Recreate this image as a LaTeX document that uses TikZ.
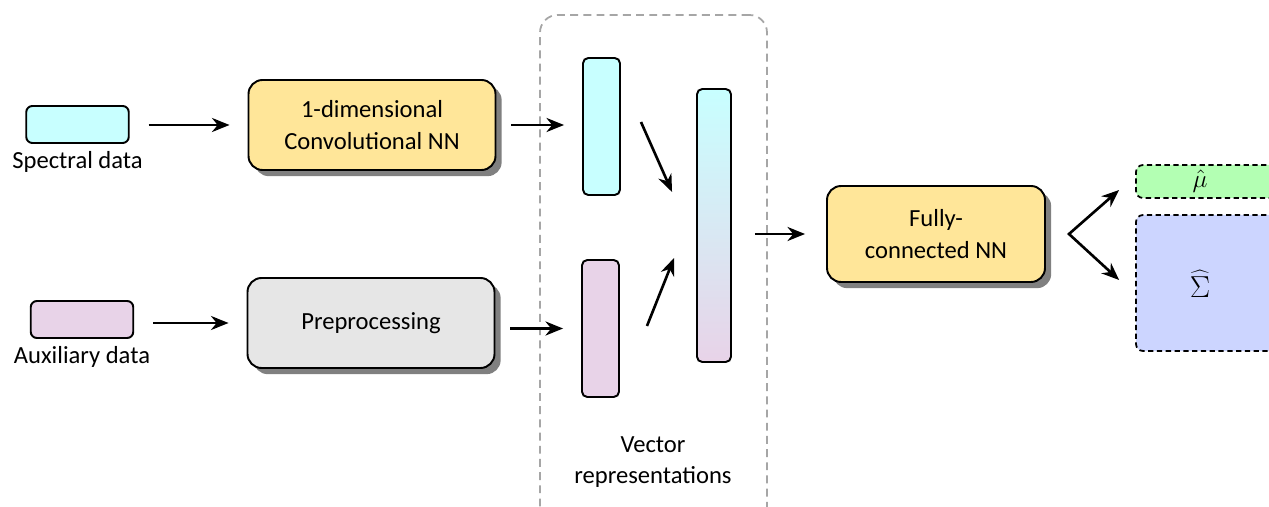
\documentclass[tikz,border=0pt]{standalone}
\usepackage{fontspec}
\setmainfont{Carlito}
\usetikzlibrary{arrows.meta, positioning, shadows, calc}
\definecolor{SpecCyan}{HTML}{C8FFFF}
\definecolor{AuxPink}{HTML}{E8D3E8}
\definecolor{NetYellow}{HTML}{FFE699}
\definecolor{PrepGray}{HTML}{E6E6E6}
\definecolor{MuGreen}{HTML}{B3FFB3}
\definecolor{SigmaBlue}{HTML}{CCD5FF}
\colorlet{GroupLine}{black!35}

\begin{document}
\begin{tikzpicture}[
        font=\fontsize{14}{18}\selectfont,
        >={Stealth[length=10pt, width=8pt]},
        databox/.style={draw, line width=1.1pt, rounded corners=3.5pt, minimum width=2.05cm, minimum height=0.74cm},
        netbox/.style={draw, line width=1.1pt, rounded corners=8pt, align=center, minimum width=4.94cm, minimum height=1.8cm,
            drop shadow={shadow xshift=3.5pt, shadow yshift=-3.5pt, fill=black!50, opacity=1}},
        vecbox/.style={draw, line width=1.1pt, rounded corners=3pt, minimum width=0.74cm, minimum height=2.74cm},
        outbox/.style={draw, line width=1pt, dash pattern=on 3pt off 2pt, rounded corners=4pt, minimum width=3.1cm},
        flow/.style={->, line width=1.5pt}
    ]
    
    % Frame
    \useasboundingbox (0,0) rectangle (25.38,-10.14);
    \clip (0,0) rectangle (25.38,-10.14);
    
    % Group of vectors
    \node[draw=GroupLine, line width=1pt, dash pattern=on 4.5pt off 3pt, rounded corners=10pt,
          minimum width=4.54cm, minimum height=10.3cm] (group) at (13.07,-5.45) {};
    
    % Inputs
    \node[databox, fill=SpecCyan] (spec) at (1.55,-2.49) {};
    \node[below=0.02cm of spec] (spectext) {Spectral data};
    \node[databox, fill=AuxPink] (aux) at (1.64,-6.39) {};
    \node[below=0.02cm of aux] (auxtext) {Auxiliary data};
    
    % Networks
    \node[netbox, fill=NetYellow] (conv) at (7.44,-2.5) {1-dimensional\\Convolutional NN};
    \node[netbox, fill=PrepGray] (prep) at (7.42,-6.46) {Preprocessing};
    \node[netbox, fill=NetYellow, minimum width=4.36cm, minimum height=1.92cm] (fc) at (18.72,-4.68) {Fully-\\connected NN};
    
    % Vectors
    \node[vecbox, fill=SpecCyan] (vspec) at (12.03,-2.53) {};
    \node[vecbox, fill=AuxPink] (vaux) at (12.01,-6.57) {};
    \node[vecbox, top color=SpecCyan, bottom color=AuxPink, minimum width=0.68cm, minimum height=5.46cm] (vcomb) at (14.28,-4.51) {};
    \node[align=center] (vectext) at (13.06,-9.24) {Vector\\representations};
    
    % Outputs
    \node[outbox, fill=MuGreen, minimum height=0.66cm] (mu) at (24.27,-3.63) {};
    \node[inner sep=0pt] (mutext) at (24.0,-3.62) {$\hat{\mu}$};
    \node[outbox, fill=SigmaBlue, minimum height=2.72cm] (sigma) at (24.27,-5.66) {};
    \node[inner sep=0pt, font=\fontsize{19}{20}\selectfont] (sigmatext) at (24.0,-5.68) {$\widehat{\Sigma}$};
    
    % Arrows
    \draw[flow, shorten <=0.38cm, shorten >=0.36cm] (spec.east |- conv) -- (conv.west);
    \draw[flow, shorten <=0.38cm, shorten >=0.36cm] (aux.east |- prep) -- (prep.west);
    \draw[flow, shorten <=0.3cm, shorten >=0.36cm] (conv.east) -- (conv.east -| vspec.west);
    \draw[flow, shorten <=0.3cm, shorten >=0.36cm] (prep.east |- vaux) -- (vaux.west);
    \draw[flow] ([xshift=0.4cm, yshift=0.09cm]vspec.east) -- ([xshift=-0.48cm, yshift=0.67cm]vcomb.west);
    \draw[flow] ([xshift=0.54cm, yshift=0.05cm]vaux.east) -- ([xshift=-0.44cm, yshift=-0.65cm]vcomb.west);
    \draw[flow, shorten <=0.46cm, shorten >=0.42cm] (vcomb.east |- fc) -- (fc.west);
    \coordinate (split) at ([xshift=0.46cm]fc.east);
    \draw[<->, line width=1.5pt]
        ([xshift=-0.32cm, yshift=-0.17cm]mu.west) -- (split) -- ([xshift=-0.32cm, yshift=0.06cm]sigma.west);
    
\end{tikzpicture}
\end{document}
